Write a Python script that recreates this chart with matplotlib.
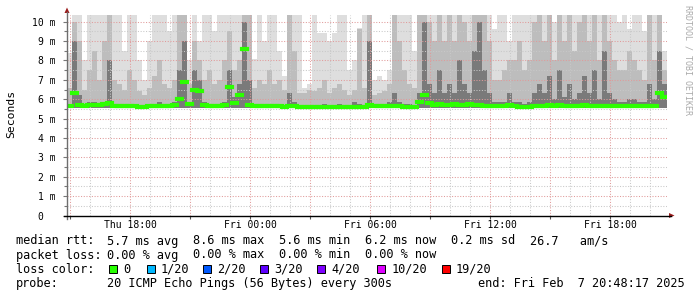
import numpy as np
import matplotlib
matplotlib.use("Agg")
import matplotlib.pyplot as plt
from matplotlib.lines import Line2D
from matplotlib.patches import Polygon, Rectangle
from matplotlib.transforms import ScaledTranslation

# ---------------- data ----------------
start_hour = 14.85          # hours since Thu 00:00 of first bin
step_hours = 0.25           # bin width
smoke_floor_ms = 5.55       # lowest ping of the smoke

median_ms = [
    5.65, 6.3, 5.7, 5.65, 5.7, 5.7, 5.7, 5.75, 5.8, 5.65,
    5.65, 5.65, 5.65, 5.65, 5.6, 5.6, 5.65, 5.65, 5.65, 5.65,
    5.65, 5.7, 6.0, 6.9, 5.75, 6.45, 6.4, 5.7, 5.65, 5.65,
    5.65, 5.7, 6.65, 5.8, 6.2, 8.6, 5.7, 5.65, 5.65, 5.65,
    5.65, 5.65, 5.65, 5.6, 5.65, 5.65, 5.6, 5.6, 5.6, 5.6,
    5.6, 5.6, 5.6, 5.6, 5.6, 5.6, 5.6, 5.6, 5.6, 5.6,
    5.7, 5.65, 5.65, 5.65, 5.65, 5.65, 5.65, 5.6, 5.6, 5.6,
    5.85, 6.2, 5.8, 5.7, 5.75, 5.7, 5.7, 5.75, 5.7, 5.7,
    5.75, 5.7, 5.7, 5.65, 5.65, 5.65, 5.65, 5.65, 5.7, 5.65,
    5.6, 5.6, 5.6, 5.65, 5.65, 5.65, 5.7, 5.65, 5.7, 5.65,
    5.65, 5.65, 5.65, 5.7, 5.65, 5.65, 5.65, 5.65, 5.65, 5.65,
    5.65, 5.65, 5.65, 5.65, 5.65, 5.65, 5.65, 5.65, 6.3, 6.1,
]

# top of outer (lightest) smoke; values above the chart are clipped
smoke_max_ms = [
    8.4, 11, 11, 8.0, 11, 11, 11, 11, 11, 11,
    11, 8.5, 11, 11, 8.0, 7.0, 9.0, 11, 11, 11,
    9.5, 11, 11, 11, 8.0, 11, 9.0, 11, 11, 9.5,
    11, 11, 11, 11, 11, 11, 11, 8.1, 11, 9.0,
    11, 11, 8.5, 7.2, 11, 11, 11, 6.6, 6.8, 11,
    9.4, 9.4, 9.0, 9.4, 11, 11, 7.5, 8.0, 9.65, 11,
    11, 7.0, 7.2, 7.0, 7.5, 11, 11, 11, 11, 8.5,
    11, 11, 11, 11, 11, 11, 11, 11, 11, 11,
    11, 11, 11, 11, 11, 9.6, 11, 11, 9.0, 11,
    11, 11, 11, 11, 11, 11, 11, 10.0, 11, 11,
    11, 11, 11, 11, 11, 11, 11, 11, 11, 11,
    10.0, 11, 9.6, 11, 11, 9.5, 11, 11, 11, 8.5,
]

# top of middle smoke band
smoke_mid_ms = [
    6.6, 10, 9, 6.5, 7.5, 8.5, 7.0, 9.0, 11, 7.0,
    6.8, 6.5, 7.5, 7.0, 6.4, 6.2, 6.6, 7.2, 8.0, 6.8,
    6.6, 7.0, 11, 11, 6.8, 9.0, 8.0, 7.0, 7.5, 6.8,
    7.0, 8.0, 9.5, 7.5, 8.0, 11, 11, 6.6, 7.0, 6.8,
    7.5, 6.8, 7.0, 6.5, 11, 8.5, 6.3, 6.3, 6.5, 6.4,
    6.6, 7.0, 6.3, 6.6, 6.8, 6.5, 6.2, 6.5, 9.6, 6.6,
    11, 6.2, 6.3, 6.4, 6.8, 11, 9.0, 7.5, 6.8, 6.6,
    11, 11, 10, 9, 11, 9, 11, 9, 11, 10,
    9, 11, 11, 11, 9, 7.0, 7.0, 7.5, 8.0, 8,
    9, 7.5, 8, 10, 11, 9, 11, 8, 11, 9,
    11, 8.5, 10, 11, 9, 11, 8, 11, 9, 8,
    7.5, 7.5, 8.5, 8, 7.5, 7.0, 11, 8, 11, 7.5,
]

# top of dark inner smoke band
smoke_dark_ms = [
    5.75, 9, 6.2, 5.75, 5.85, 5.85, 5.75, 5.85, 8, 5.75,
    5.75, 5.75, 5.75, 5.75, 5.7, 5.7, 5.75, 5.75, 5.85, 5.75,
    5.75, 5.85, 7.5, 9, 5.85, 7.5, 7.0, 5.85, 5.75, 5.75,
    5.75, 5.85, 7.5, 6.1, 6.8, 10, 7, 5.75, 5.75, 5.75,
    5.75, 5.75, 5.75, 5.7, 6.3, 5.85, 5.7, 5.7, 5.7, 5.7,
    5.7, 5.75, 5.7, 5.7, 5.75, 5.7, 5.7, 5.85, 5.75, 5.7,
    9, 5.75, 5.75, 5.75, 5.85, 6.3, 5.85, 5.75, 5.75, 5.7,
    6.3, 10, 6.8, 6.3, 7.5, 6.3, 6.8, 6.3, 8, 6.8,
    6.3, 8.5, 10, 7.5, 6.3, 5.85, 5.85, 5.85, 6.3, 5.85,
    5.85, 5.75, 5.85, 6.3, 6.8, 6.3, 7.2, 6.0, 7.5, 6.1,
    6.8, 6.0, 6.3, 7.2, 6.3, 7.5, 6.0, 8.5, 6.3, 6.0,
    5.85, 5.85, 6.0, 6.0, 5.85, 5.85, 6.8, 6.0, 8.5, 6.8,
]

y_ticks_ms = [0, 1, 2, 3, 4, 5, 6, 7, 8, 9, 10]
y_tick_labels = ["0", "1 m", "2 m", "3 m", "4 m", "5 m", "6 m", "7 m", "8 m", "9 m", "10 m"]
x_label_hours = [18, 24, 30, 36, 42]
x_tick_labels = ["Thu 18:00", "Fri 00:00", "Fri 06:00", "Fri 12:00", "Fri 18:00"]

legend_rtt = ["5.7 ms avg", "8.6 ms max", "5.6 ms min", "6.2 ms now", "0.2 ms sd", "26.7   am/s"]
legend_loss = ["0.00 % avg", "0.00 % max", "0.00 % min", "0.00 % now"]
loss_labels = ["0", "1/20", "2/20", "3/20", "4/20", "10/20", "19/20"]
loss_colors = ["#26ff00", "#00b8ff", "#0059ff", "#5e00ff", "#7e00ff", "#dd00ff", "#ff0000"]
probe_text = "20 ICMP Echo Pings (56 Bytes) every 300s"
end_text = "end: Fri Feb  7 20:48:17 2025"

# ---------------- figure ----------------
W, H = 697, 297
MONO = "DejaVu Sans Mono"
fig = plt.figure(figsize=(W / 100, H / 100), dpi=100, facecolor="white")

def fx(x):
    return x / W

def fy(y):
    return 1 - y / H

X0, X1, Y0, Y1 = 67, 667, 215.5, 14.5
ax = fig.add_axes([fx(X0), fy(Y0), (X1 - X0) / W, (Y0 - Y1) / H])
ax.set_facecolor("white")

n = len(median_ms)
edges = start_hour + step_hours * np.arange(n + 1)

def ext(a):
    a = np.asarray(a, float)
    return np.append(a, a[-1])

ax.fill_between(edges, smoke_floor_ms, ext(smoke_max_ms), step="post", color="#dedede", lw=0, zorder=1)
ax.fill_between(edges, smoke_floor_ms, ext(smoke_mid_ms), step="post", color="#bdbdbd", lw=0, zorder=2)
ax.fill_between(edges, smoke_floor_ms, ext(smoke_dark_ms), step="post", color="#7a7a7a", lw=0, zorder=3)

ax.set_xlim(edges[0], edges[-1])
ax.set_ylim(0, (Y0 - Y1) / 19.38)

# grid
for h in range(15, 45):
    major = h % 3 == 0
    ax.axvline(h, color="#e09a9a" if major else "#c8c8c8", lw=0.75,
               ls=(0, (1, 1.6)), zorder=4)
for v in np.arange(0.5, 10.51, 0.5):
    major = abs(v - round(v)) < 1e-6
    ax.axhline(v, color="#e09a9a" if major else "#c8c8c8", lw=0.75,
               ls=(0, (1, 1.6)), zorder=4)

# median: one short horizontal segment per bin (no vertical connectors)
ax.hlines(median_ms, edges[:-1], edges[1:], color="#2cff00", lw=3.0, zorder=6,
          capstyle="projecting")

for s in ax.spines.values():
    s.set_visible(False)

ax.set_yticks(y_ticks_ms)
ax.set_yticklabels(y_tick_labels, fontfamily=MONO, fontsize=7)
ax.set_yticks(np.arange(0.5, 10.5, 1.0), minor=True)
ax.tick_params(axis="y", which="major", length=3, width=0.8, color="#777777", pad=5)
ax.tick_params(axis="y", which="minor", length=2, width=0.8, color="#777777")
zero_lbl = ax.get_yticklabels()[0]
zero_lbl.set_transform(zero_lbl.get_transform() + ScaledTranslation(-12.5 / 100, 0, fig.dpi_scale_trans))

ax.set_xticks(x_label_hours)
ax.set_xticklabels(x_tick_labels, fontfamily=MONO, fontsize=7)
ax.set_xticks(np.arange(15, 45, 3), minor=True)
ax.tick_params(axis="x", which="major", length=2, width=0.8, color="#555555", pad=1.5)
ax.tick_params(axis="x", which="minor", length=2, width=0.8, color="#555555")

# axes lines and arrows
fig.add_artist(Line2D([fx(X0), fx(X0)], [fy(Y0 + 3), fy(12)], color="#6e6e6e", lw=1.0))
fig.add_artist(Line2D([fx(X0 - 3), fx(671)], [fy(Y0), fy(Y0)], color="#000000", lw=1.0))
fig.add_artist(Polygon([[fx(64.5), fy(13)], [fx(69.5), fy(13)], [fx(67), fy(7.5)]],
                       closed=True, color="#9b1c1c", lw=0, transform=fig.transFigure))
fig.add_artist(Polygon([[fx(669), fy(213)], [fx(669), fy(218)], [fx(674.5), fy(215.5)]],
                       closed=True, color="#9b1c1c", lw=0, transform=fig.transFigure))

# side texts
fig.text(fx(11), fy(114), "Seconds", rotation=90, fontfamily=MONO, fontsize=8.2,
         ha="center", va="center")
fig.text(fx(688), fy(60), "RRDTOOL / TOBI OETIKER", rotation=270, fontfamily=MONO,
         fontsize=6, color="#aaaaaa", ha="center", va="center")

# legend
LF = 8.6
rows = [241, 255, 269.3, 283.3]
fig.text(fx(16), fy(rows[0]), "median rtt:", fontfamily=MONO, fontsize=LF, va="center")
for k, s in enumerate(legend_rtt):
    xs = 107.3 + 86 * k if k < 5 else 530
    fig.text(fx(xs), fy(rows[0]), s, fontfamily=MONO, fontsize=LF, va="center")
fig.text(fx(16), fy(rows[1]), "packet loss:", fontfamily=MONO, fontsize=LF, va="center")
for k, s in enumerate(legend_loss):
    fig.text(fx(107.3 + 86 * k), fy(rows[1]), s, fontfamily=MONO, fontsize=LF, va="center")
fig.text(fx(16), fy(rows[2]), "loss color:", fontfamily=MONO, fontsize=LF, va="center")
sq_x = [108.5, 146.7, 203.3, 260.3, 317, 377.3, 441.7]
for xs, lab, col in zip(sq_x, loss_labels, loss_colors):
    fig.add_artist(Rectangle((fx(xs), fy(rows[2] + 4)), 8 / W, 8 / H, facecolor=col,
                             edgecolor="black", lw=0.7, transform=fig.transFigure))
    fig.text(fx(xs + 14.3), fy(rows[2]), lab, fontfamily=MONO, fontsize=LF, va="center")
fig.text(fx(16), fy(rows[3]), "probe:", fontfamily=MONO, fontsize=LF, va="center")
fig.text(fx(107.3), fy(rows[3]), probe_text, fontfamily=MONO, fontsize=LF, va="center")
fig.text(fx(478.3), fy(rows[3]), end_text, fontfamily=MONO, fontsize=LF, va="center")

fig.savefig("out.png", dpi=100, facecolor="white")
